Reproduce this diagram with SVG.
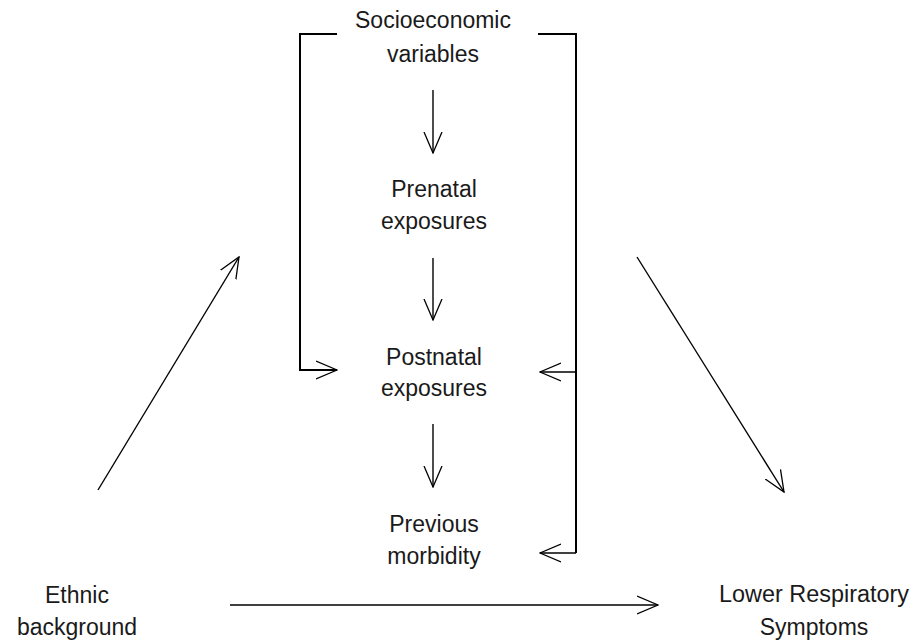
<svg xmlns="http://www.w3.org/2000/svg" width="915" height="640" viewBox="0 0 915 640">
<defs>
<marker id="ah" viewBox="0 0 22 20" refX="21" refY="10" markerWidth="22" markerHeight="20" markerUnits="userSpaceOnUse" orient="auto">
<path d="M0,1 L21,10 L0,19" fill="none" stroke="#000" stroke-width="1.3"/>
</marker>
<style>
.t{font-family:"Liberation Sans",Arial,sans-serif;font-size:23px;fill:#1a1a1a;text-anchor:middle}
.c{fill:none;stroke:#000;stroke-width:1.4}
.b{fill:none;stroke:#000;stroke-width:2}
</style>
</defs>
<rect width="915" height="640" fill="#fff"/>
<g id="socio"><text class="t" x="433" y="28">Socioeconomic</text><text class="t" x="433" y="62">variables</text></g>
<g id="prenatal"><text class="t" x="434" y="197">Prenatal</text><text class="t" x="434" y="229">exposures</text></g>
<g id="postnatal"><text class="t" x="434" y="365">Postnatal</text><text class="t" x="434" y="396">exposures</text></g>
<g id="previous"><text class="t" x="434" y="532">Previous</text><text class="t" x="434" y="564">morbidity</text></g>
<g id="ethnic"><text class="t" x="77" y="603">Ethnic</text><text class="t" x="77" y="635">background</text></g>
<g id="lrs"><text class="t" x="814" y="602" textLength="190" lengthAdjust="spacingAndGlyphs">Lower Respiratory</text><text class="t" x="814" y="635">Symptoms</text></g>
<g id="connectors">
<line class="c" x1="433" y1="90" x2="433" y2="153" marker-end="url(#ah)"/>
<line class="c" x1="433" y1="258" x2="433" y2="320" marker-end="url(#ah)"/>
<line class="c" x1="433" y1="424" x2="433" y2="487" marker-end="url(#ah)"/>
<polyline class="b" points="337,34 300,34 300,370 337,370" marker-end="url(#ah)"/>
<polyline class="b" points="538,34 576,34 576,553"/>
<line class="c" x1="576" y1="372" x2="540" y2="372" marker-end="url(#ah)"/>
<line class="c" x1="576" y1="553" x2="540" y2="553" marker-end="url(#ah)"/>
<line class="c" x1="98" y1="490" x2="239" y2="257" marker-end="url(#ah)"/>
<line class="c" x1="637" y1="257" x2="784" y2="492" marker-end="url(#ah)"/>
<line class="c" x1="230" y1="605" x2="658" y2="605" marker-end="url(#ah)"/>
</g>
</svg>
